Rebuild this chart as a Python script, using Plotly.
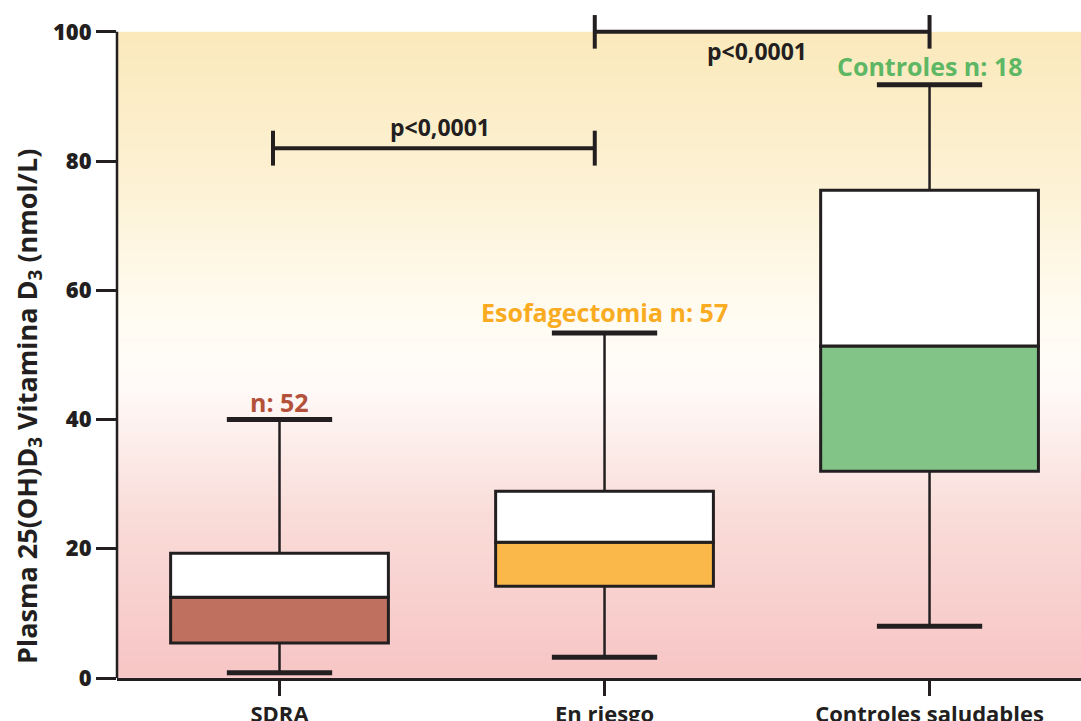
import numpy as np
import plotly.graph_objects as go

# ---- data ----
categories = ["SDRA", "En riesgo", "Controles saludables"]
low_whisker = [0.8, 3.2, 8.0]
q1 = [5.4, 14.2, 32.0]
median = [12.5, 21.0, 51.4]
q3 = [19.3, 28.9, 75.5]
high_whisker = [40.0, 53.4, 91.8]

fill_colors = ["#c0705e", "#fbb84a", "#82c387"]
n_labels = ["n: 52", "Esofagectomia n: 57", "Controles n: 18"]
label_colors = ["#b4513b", "#f9ab22", "#5db764"]
label_y = [42.7, 56.7, 94.7]

y_ticks = [0, 20, 40, 60, 80, 100]

# significance brackets
bracket_x0 = [-0.02, 0.97]
bracket_x1 = [0.97, 2.0]
bracket_y = [82.0, 100.0]
bracket_half = [2.7, 2.6]
bracket_text = ["p<0,0001", "p<0,0001"]
bracket_text_x = [0.495, 1.47]
bracket_text_y = [85.3, 97.0]

INK = "#231f20"
FONT = "Open Sans"
BOX_W = 0.67
CAP_HALF = 0.162
xs = list(range(len(categories)))

fig = go.Figure()

# gradient background (pink -> white -> yellow), drawn as a heatmap of the y level
bg_edges = np.linspace(0, 100, 201)
bg_mid = (bg_edges[:-1] + bg_edges[1:]) / 2
fig.add_trace(go.Heatmap(
    x=[-0.5, 2.6], y=bg_edges, z=[[v] for v in bg_mid],
    zmin=0, zmax=100, showscale=False, hoverinfo="skip",
    colorscale=[[0.0, "#f7c5c5"], [0.25, "#f9dcd8"],
                [0.45, "#fffaf8"], [0.55, "#fffcf3"],
                [0.75, "#fdf2d6"], [1.0, "#fbe9bb"]]))

# whiskers
wx, wy = [], []
for i in xs:
    wx += [i, i, None, i, i, None]
    wy += [q3[i], high_whisker[i], None, q1[i], low_whisker[i], None]
fig.add_trace(go.Scatter(x=wx, y=wy, mode="lines",
                         line=dict(color=INK, width=2.5),
                         hoverinfo="skip", showlegend=False))

# caps
cx, cy = [], []
for i in xs:
    for v in (high_whisker[i], low_whisker[i]):
        cx += [i - CAP_HALF, i + CAP_HALF, None]
        cy += [v, v, None]
fig.add_trace(go.Scatter(x=cx, y=cy, mode="lines",
                         line=dict(color=INK, width=5),
                         hoverinfo="skip", showlegend=False))

# lower part of the box (Q1 -> median), coloured
fig.add_trace(go.Bar(x=xs, base=q1, y=[m - a for m, a in zip(median, q1)],
                     width=BOX_W, marker=dict(color=fill_colors,
                                              line=dict(color=INK, width=3)),
                     showlegend=False))
# upper part of the box (median -> Q3), white
fig.add_trace(go.Bar(x=xs, base=median, y=[b - m for b, m in zip(q3, median)],
                     width=BOX_W, marker=dict(color="white",
                                              line=dict(color=INK, width=3)),
                     showlegend=False))

# significance brackets
for k in range(len(bracket_y)):
    x0, x1, y, h = bracket_x0[k], bracket_x1[k], bracket_y[k], bracket_half[k]
    fig.add_trace(go.Scatter(
        x=[x0, x1, None, x0, x0, None, x1, x1],
        y=[y, y, None, y - h, y + h, None, y - h, y + h],
        mode="lines", line=dict(color=INK, width=4),
        hoverinfo="skip", showlegend=False))
    fig.add_annotation(x=bracket_text_x[k], y=bracket_text_y[k], text=bracket_text[k],
                       showarrow=False, xanchor="center", yanchor="middle",
                       font=dict(family=FONT, size=23, color=INK, weight="bold"))

# group labels
for i in xs:
    fig.add_annotation(x=i, y=label_y[i], text=n_labels[i], showarrow=False,
                       xanchor="center", yanchor="middle",
                       font=dict(family=FONT, size=25, color=label_colors[i], weight="bold"))

# y-axis title
fig.add_annotation(xref="paper", yref="y", x=-0.092, y=42,
                   text="Plasma 25(OH)D<sub>3</sub> Vitamina D<sub>3</sub> (nmol/L)",
                   textangle=-90, showarrow=False, xanchor="center", yanchor="middle",
                   font=dict(family=FONT, size=27, color=INK, weight="bold"))

# y-axis line (0 -> 100 only)
fig.add_shape(type="line", xref="paper", yref="y", x0=0, x1=0, y0=0, y1=100,
              line=dict(color=INK, width=2.5))

fig.update_layout(
    width=1081, height=721,
    margin=dict(l=117, r=0, t=6, b=43, autoexpand=False),
    paper_bgcolor="white", plot_bgcolor="white",
    barmode="overlay", showlegend=False,
    font=dict(family=FONT, color=INK),
    xaxis=dict(range=[-0.5, 2.466], tickvals=xs, ticktext=categories,
               automargin=False,
               showgrid=False, zeroline=False, showline=True,
               linecolor=INK, linewidth=2.5, ticks="outside", ticklen=15,
               tickwidth=2.5, tickcolor=INK,
               tickfont=dict(family=FONT, size=22, color=INK, weight="bold")),
    yaxis=dict(range=[0, 104], tickvals=y_ticks, showgrid=False, zeroline=False,
               automargin=False,
               showline=False, ticks="outside", ticklen=20, tickwidth=2.5,
               tickcolor=INK,
               tickfont=dict(family=FONT, size=22, color=INK, weight=800)),
)

fig.write_html("out.html", config={"displayModeBar": False},
               post_script="document.body.style.margin='0';document.body.style.overflow='hidden';")
